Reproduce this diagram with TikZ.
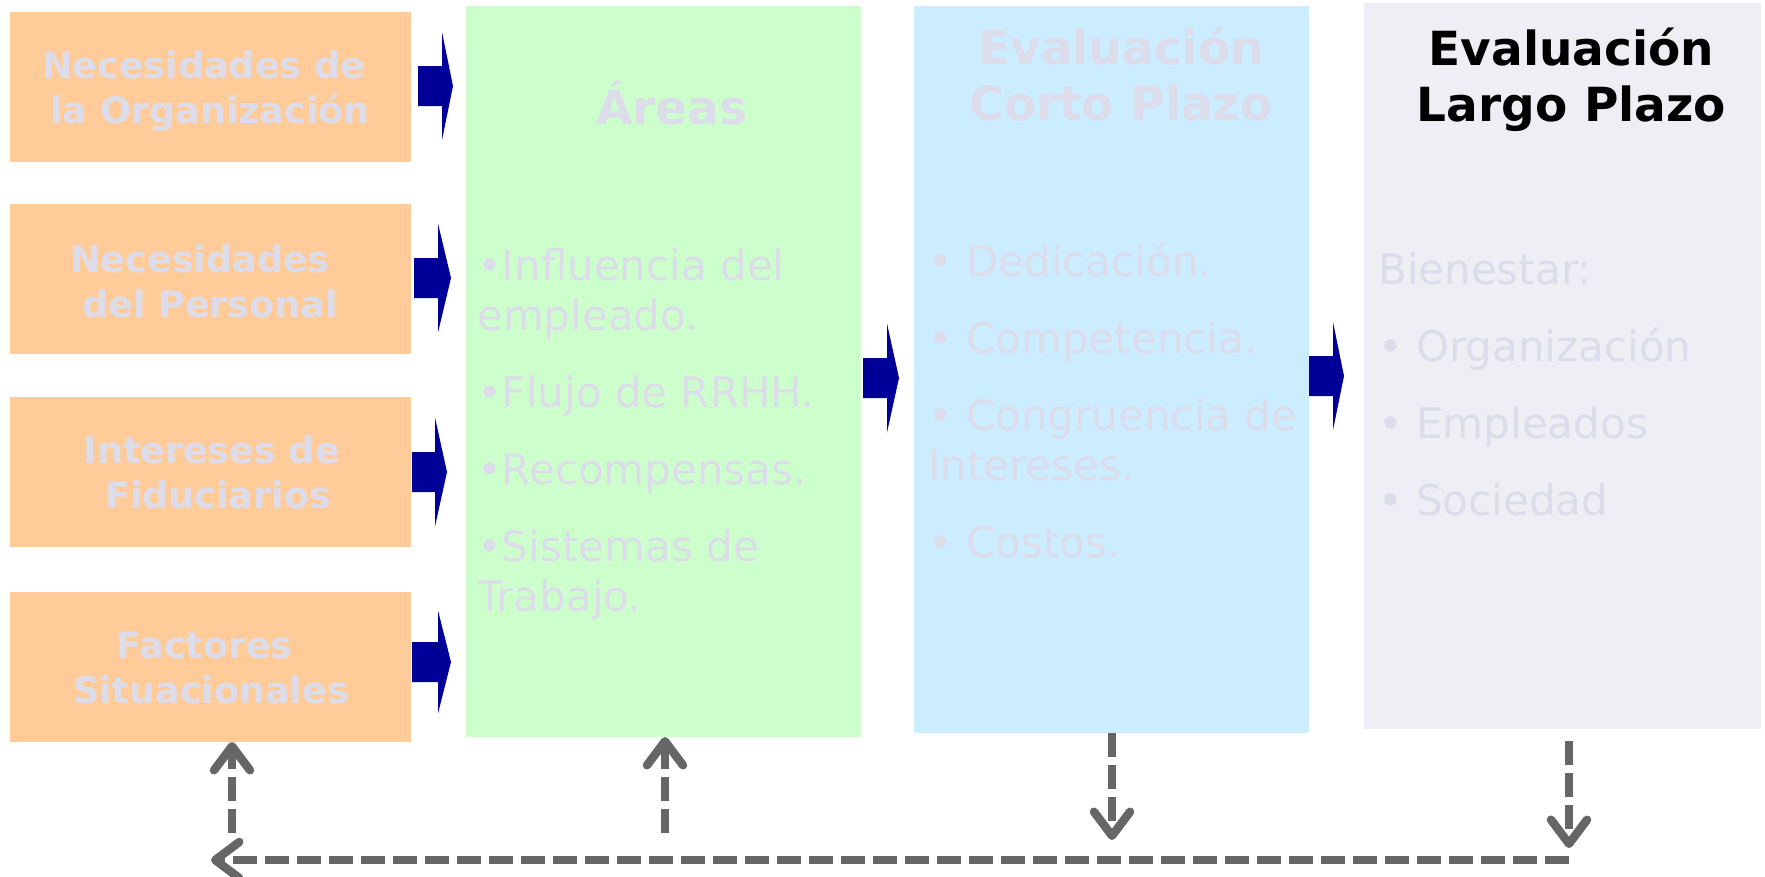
\documentclass[tikz,border=0pt]{standalone}
\usepackage{fontspec}
\setmainfont{DejaVu Sans}
\usetikzlibrary{calc,arrows.meta}

\definecolor{orangeF}{RGB}{255,204,153}
\definecolor{greenF}{RGB}{204,255,204}
\definecolor{blueF}{RGB}{204,236,255}
\definecolor{grayF}{RGB}{238,238,244}
\definecolor{paleT}{RGB}{220,220,234}
\definecolor{arrowblue}{RGB}{0,0,153}
\definecolor{dashgray}{RGB}{102,102,102}

% block arrow: start point, shaft length, head length, head half-height
\newcommand\blockarrow[4]{%
  \fill[arrowblue] #1 ++(0,20) -- ++(#2,0) -- ++(0,{#4-20}) -- ++(#3,{-#4})
    -- ++({-#3},{-#4}) -- ++(0,{#4-20}) -- ++({-#2},0) -- cycle;}

\begin{document}
\begin{tikzpicture}[x=1pt,y=-1pt,
  box/.style={rectangle, inner sep=0pt, outer sep=0pt, draw=none},
  otext/.style={text=paleT, font=\bfseries\fontsize{36.5}{45}\selectfont,
    align=center, inner sep=0pt, anchor=base},
  ttext/.style={font=\bfseries\fontsize{47}{56}\selectfont,
    align=center, inner sep=0pt, anchor=base},
  ltext/.style={text=paleT, font=\fontsize{42}{50}\selectfont,
    align=left, inner sep=0pt, anchor=base west},
  dasharrow/.style={draw=dashgray, line width=8.5pt, dash pattern=on 24pt off 8pt,
    -{Straight Barb[length=24pt, width=36pt, round]}}]

\useasboundingbox (0,0) rectangle (1765,876);

% input boxes
\node[box, fill=orangeF, minimum width=401pt, minimum height=150pt] (o1) at (210.5,87) {};
\node[box, fill=orangeF, minimum width=401pt, minimum height=150pt] (o2) at (210.5,279) {};
\node[box, fill=orangeF, minimum width=401pt, minimum height=150pt] (o3) at (210.5,472) {};
\node[box, fill=orangeF, minimum width=401pt, minimum height=150pt] (o4) at (210.5,667) {};

% columns
\node[box, fill=greenF, minimum width=395pt, minimum height=731pt] (green) at (663.5,371.5) {};
\node[box, fill=blueF, minimum width=395pt, minimum height=727pt] (blue) at (1111.5,369.5) {};
\node[box, fill=grayF, minimum width=397pt, minimum height=726pt] (gray) at (1562.5,366) {};

% input labels (positioned by the baseline of their last line)
\node[otext] (o1t) at (210,123) {Necesidades de\hspace*{12.7pt}\\la Organización};
\node[otext] (o2t) at (210,317) {Necesidades\hspace*{20pt}\\del Personal};
\node[otext] (o3t) at (218,508) {Intereses de\hspace*{12.7pt}\\Fiduciarios};
\node[otext] (o4t) at (211,703) {Factores\hspace*{12.7pt}\\Situacionales};

% column titles
\node[ttext, text=paleT] (greent) at (672,124) {Áreas};
\node[ttext, text=paleT] (bluet) at (1121,120) {Evaluación\\Corto Plazo};
\node[ttext, text=black] (grayt) at (1571.5,121) {Evaluación\\Largo Plazo};

% column contents
\node[ltext] (greenl) at (477,611) {•Influencia del\\empleado.\\[27pt]•Flujo de RRHH.\\[27pt]•Recompensas.\\[27pt]•Sistemas de\\Trabajo.};
\node[ltext] (bluel) at (928,557) {• Dedicación.\\[27pt]• Competencia.\\[27pt]• Congruencia de\\Intereses.\\[27pt]• Costos.};
\node[ltext] (grayl) at (1378,515) {Bienestar:\\[27pt]• Organización\\[27pt]• Empleados\\[27pt]• Sociedad};

% block arrows between stages
\blockarrow{($(o1.east)+(7,-1)$)}{24}{11}{54}
\blockarrow{($(o2.east)+(3,-1)$)}{24}{13}{54.5}
\blockarrow{($(o3.east)+(1,0)$)}{23}{12}{54.5}
\blockarrow{($(o4.east)+(1,-5)$)}{26}{13}{51.5}
\blockarrow{($(green.east)+(2,6.5)$)}{24}{12}{54.5}
\blockarrow{($(blue.east)+(0,6.5)$)}{24}{11}{54}

% feedback loop
\coordinate (d1) at (1112,840);
\coordinate (d2) at (1569,848);
\coordinate (busR) at (1569,860);
\coordinate (busL) at (211,860);
\coordinate (u1) at (232,833);
\coordinate (u2) at (665,833);

\draw[dasharrow] (d1 |- blue.south) -- (d1);
\draw[dasharrow] ($(d2 |- gray.south)+(0,12)$) -- (d2);
\draw[dasharrow] (busR) -- (busL);
\draw[dasharrow] (u1) -- (u1 |- o4.south);
\draw[dasharrow] (u2) -- (u2 |- green.south);

\end{tikzpicture}
\end{document}
